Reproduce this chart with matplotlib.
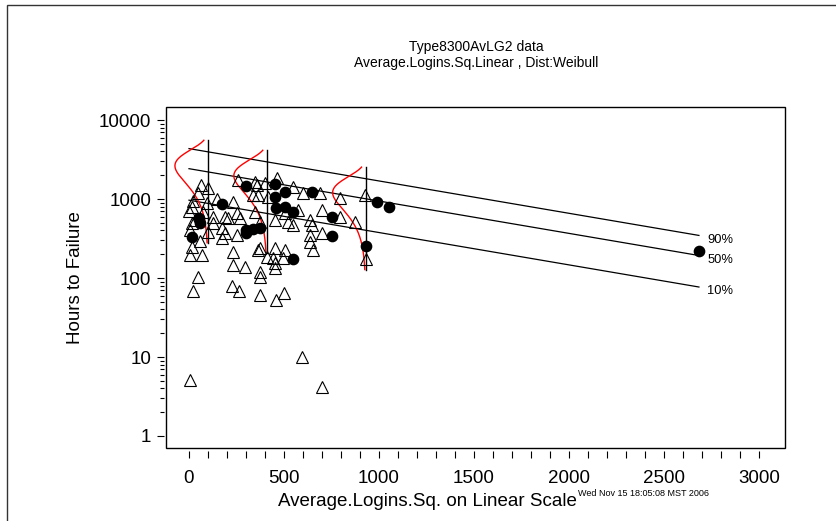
import numpy as np
import matplotlib
matplotlib.use("Agg")
import matplotlib.pyplot as plt
from matplotlib.patches import Rectangle
from matplotlib.ticker import FixedLocator, NullFormatter, FuncFormatter

plt.rcParams["font.family"] = ["Liberation Sans", "DejaVu Sans"]

# ---------------- text ----------------
title_lines = ["Type8300AvLG2 data", "Average.Logins.Sq.Linear , Dist:Weibull"]
x_label = "Average.Logins.Sq. on Linear Scale"
y_label = "Hours to Failure"
timestamp = "Wed Nov 15 18:05:08 MST 2006"

# ---------------- data ----------------
# failures (filled circles)
fail_x = [300, 453, 505, 647, 453, 174, 458, 505, 547, 53, 753, 300, 337, 374,
          300, 16, 753, 547, 989, 1053, 932, 2684, 58]
fail_y = [1461, 1549, 1227, 1227, 1060, 864, 769, 792, 684, 575, 592, 405, 417, 430,
          371, 330, 340, 174, 916, 792, 254, 220, 497]

# censored (open triangles)
cens_x = [63, 100, 47, 21, 95, 0, 74, 32, 126, 5, 58, 16, 5, 68, 16, 147, 126, 100,
          47, 21, 5, 16, 258, 347, 337, 232, 189, 253, 205, 268, 347, 174, 189, 174,
          253, 232, 363, 232, 295, 226, 263, 374, 374, 374, 463, 358, 400, 547, 600,
          689, 795, 363, 416, 700, 505, 574, 453, 374, 521, 547, 637, 647, 795, 637,
          700, 637, 653, 374, 453, 505, 442, 495, 453, 453, 410, 458, 500, 595, 700,
          926, 874, 932]
cens_y = [1504, 1378, 1191, 943, 890, 705, 684, 542, 497, 405, 294, 247, 196, 196,
          792, 1000, 592, 382, 103, 68, 5.1, 497, 1741, 1641, 1124, 916, 592, 665,
          575, 575, 684, 430, 371, 321, 350, 213, 226, 146, 138, 79, 68, 61, 119, 103,
          1845, 1504, 1594, 1419, 1191, 1191, 1030, 1124, 1060, 725, 665, 725, 542,
          512, 512, 469, 542, 469, 592, 350, 371, 286, 226, 240, 240, 226, 179, 179,
          155, 134, 184, 53, 65, 10, 4.2, 1124, 512, 174]

# fitted Weibull regression: log(t) = mu0 + mu1*x + sigma*log(-log(1-p))
mu0 = 7.971
mu1 = -9.43e-4
sigma = 0.4875
quantile_probs = [0.9, 0.5, 0.1]
quantile_labels = ["90%", "50%", "10%"]
line_x_range = [0, 2684]
density_x = [100, 410, 930]
density_prob_range = [0.01, 0.99]

x_ticks = [0, 500, 1000, 1500, 2000, 2500, 3000]
y_ticks = [1, 10, 100, 1000, 10000]

# ---------------- figure ----------------
W, H = 836, 521
fig = plt.figure(figsize=(W / 100, H / 100), dpi=100)
ax_l, ax_r, ax_t, ax_b = 165.7, 785, 107, 448
ax = fig.add_axes([ax_l / W, 1 - ax_b / H, (ax_r - ax_l) / W, (ax_b - ax_t) / H])
ax.set_xlim(-122.6, 3137)
ax.set_yscale("log")
ax.set_ylim(10 ** -0.152, 10 ** 4.165)

def zq(p):
    return np.log(-np.log(1 - np.asarray(p, dtype=float)))

# quantile lines
xl = np.array(line_x_range, dtype=float)
for p, lab in zip(quantile_probs, quantile_labels):
    yl = np.exp(mu0 + mu1 * xl + sigma * zq(p))
    ax.plot(xl, yl, color="black", lw=0.9, zorder=2)
    ax.annotate(lab, (xl[-1], yl[-1]), xytext=(6, -3), textcoords="offset points",
                ha="left", va="center", fontsize=9.3, color="black")

# density curves
curve_width = 174.0
for xd in density_x:
    z = np.linspace(zq(density_prob_range[0]), zq(density_prob_range[1]), 300)
    ty = np.exp(mu0 + mu1 * xd + sigma * z)
    dens = np.exp(z - np.exp(z)) / np.exp(-1.0)
    ax.plot(xd - curve_width * dens, ty, color="red", lw=1.0, zorder=3)
    ax.plot([xd, xd], [ty[0], ty[-1]], color="black", lw=1.0, zorder=3)

# points
ax.plot(cens_x, cens_y, linestyle="none", marker="^", ms=8.2, mfc="none",
        mec="black", mew=0.8, zorder=4)
ax.plot(fail_x, fail_y, linestyle="none", marker="o", ms=7.4, mfc="black",
        mec="black", zorder=5)

# axes styling (R-like: box plus detached ticks)
for s in ["top", "right", "left", "bottom"]:
    ax.spines[s].set_visible(False)
ax.spines["bottom"].set_position(("outward", 2.5))
ax.spines["left"].set_position(("outward", 1.3))
ax.add_patch(Rectangle((0, 0), 1, 1, transform=ax.transAxes, fill=False,
                       lw=1.0, ec="black", clip_on=False, zorder=6))

ax.xaxis.set_major_locator(FixedLocator(x_ticks))
ax.xaxis.set_minor_locator(FixedLocator(np.arange(0, 3001, 100)))
ax.set_xticklabels([str(v) for v in x_ticks])
ax.yaxis.set_major_locator(FixedLocator(y_ticks))
ax.yaxis.set_minor_locator(FixedLocator([m * 10 ** e for e in range(0, 4) for m in range(2, 10)]))
ax.yaxis.set_major_formatter(FuncFormatter(lambda v, p: "%d" % round(v)))
ax.yaxis.set_minor_formatter(NullFormatter())
ax.tick_params(axis="x", which="both", length=5, width=0.8, pad=8, labelsize=13.5)
ax.tick_params(axis="y", which="major", length=5, width=0.8, pad=4, labelsize=13.5)
ax.tick_params(axis="y", which="minor", length=3.2, width=0.8)

# labels
fig.text(76 / W, 1 - 278 / H, y_label, rotation=90, ha="center", va="center", fontsize=13.5)
fig.text(577 / W, 1 - 502 / H, x_label, ha="right", va="center", fontsize=13.5)
fig.text(578 / W, 1 - 493 / H, timestamp, ha="left", va="center", fontsize=6.5)
fig.text(476 / W, 1 - 47 / H, title_lines[0], ha="center", va="center", fontsize=10)
fig.text(476 / W, 1 - 63 / H, title_lines[1], ha="center", va="center", fontsize=10)

# outer device frame
fig.add_artist(Rectangle((7 / W, -0.1), 1.2, 1 - 5 / H + 0.1, transform=fig.transFigure,
                         fill=False, lw=1.0, ec="#333333"))

fig.savefig("out.png", dpi=100)
